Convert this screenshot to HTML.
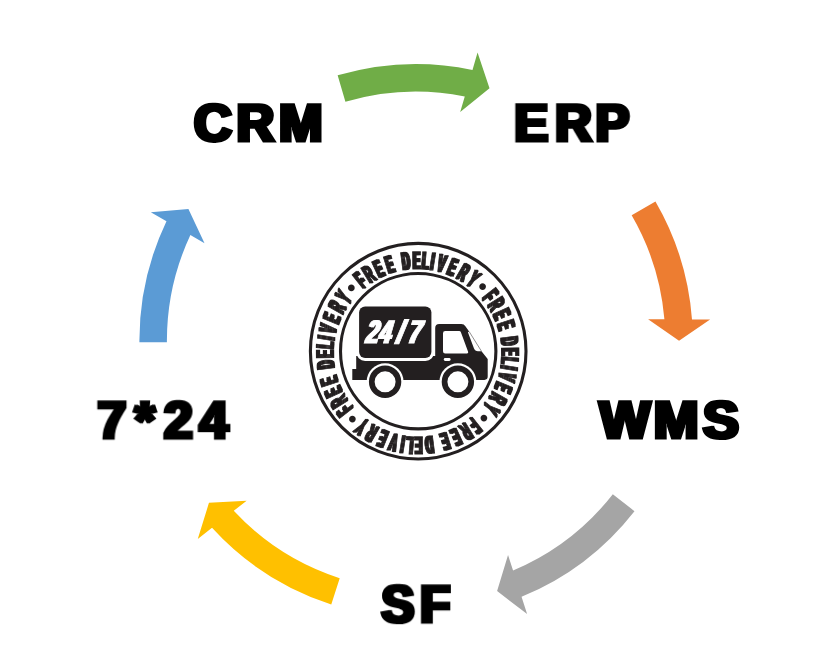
<!DOCTYPE html>
<html lang="en">
<head>
<meta charset="utf-8">
<title>CRM ERP WMS SF 7*24 cycle</title>
<style>
html,body{margin:0;padding:0;background:#fff;}
body{width:826px;height:656px;overflow:hidden;}
svg{display:block;will-change:transform;}
text{font-family:"Liberation Sans",sans-serif;font-weight:bold;font-kerning:none;text-rendering:geometricPrecision;}
.lbl text{fill:#000;stroke:#000;stroke-linejoin:miter;}
.ring text{fill:#231f20;stroke:#231f20;stroke-linejoin:miter;}
.ring text.dot{stroke:none;}
.t247{font-style:italic;fill:#fff;stroke:#fff;stroke-linejoin:miter;}
</style>
</head>
<body>
<svg width="826" height="656" viewBox="0 0 826 656">
<defs><filter id="fatv" x="-10%" y="-10%" width="120%" height="120%" color-interpolation-filters="sRGB"><feMorphology operator="dilate" radius="0 1"/></filter><filter id="fat" x="-10%" y="-10%" width="120%" height="120%" color-interpolation-filters="sRGB"><feMorphology operator="dilate" radius="1 0"/></filter><filter id="idf" x="-10%" y="-10%" width="120%" height="120%" color-interpolation-filters="sRGB"><feOffset dx="0" dy="0"/></filter>
<path id="seg0" d="M363.06 288.69 A84.25 84.25 0 0 1 477.68 293.83"/>
<path id="seg1" d="M481.81 298.36 A84.25 84.25 0 0 1 476.67 412.98"/>
<path id="seg2" d="M472.14 417.11 A84.25 84.25 0 0 1 357.52 411.97"/>
<path id="seg3" d="M353.39 407.44 A84.25 84.25 0 0 1 358.53 292.82"/>
</defs>
<rect width="826" height="656" fill="#fff"/>
<g class="arrows">
<path fill="#70AD47" transform="translate(-0.15 0.55)" d="M337.79 74.77 A277.00 277.00 0 0 1 472.64 69.35 L477.70 51.99 L489.66 87.77 L460.35 111.51 L464.92 95.84 A249.50 249.50 0 0 0 345.56 101.15 Z"/>
<path fill="#ED7D31" transform="translate(-0.20 -0.10)" d="M655.65 201.58 A277.00 277.00 0 0 1 692.20 319.48 L710.29 319.51 L679.25 340.96 L648.29 319.41 L664.61 319.43 A249.50 249.50 0 0 0 631.86 215.37 Z"/>
<path fill="#A5A5A5" transform="translate(0.20 0.10)" d="M634.28 511.04 A277.00 277.00 0 0 1 521.34 596.69 L526.90 613.90 L496.91 591.01 L507.84 554.90 L512.86 570.43 A249.50 249.50 0 0 0 612.61 494.11 Z"/>
<path fill="#FFC000" transform="translate(0.40 0.30)" d="M330.86 604.09 A277.00 277.00 0 0 1 211.62 527.47 L197.36 538.60 L208.56 502.57 L246.22 500.43 L233.36 510.48 A249.50 249.50 0 0 0 339.31 577.92 Z"/>
<path fill="#5B9BD5" transform="translate(0.40 0.20)" d="M139.00 342.14 A277.00 277.00 0 0 1 166.08 221.04 L150.42 211.99 L188.02 208.87 L204.12 242.99 L189.98 234.83 A249.50 249.50 0 0 0 166.50 341.98 Z"/>
</g>
<g class="lbl" filter="url(#fat)">
<text transform="translate(0 141.05) scale(0.9943 1)" x="195.02 237.96 280.63" y="0" font-size="52.62" stroke-width="2.90">CRM</text>
<text transform="translate(0 140.95) scale(0.9658 1)" x="532.55 574.83 616.46" y="0" font-size="52.62" stroke-width="2.90">ERP</text>
<text transform="translate(0 438.15) scale(1.0210 1)" x="587.22 640.25 688.52" y="0" font-size="52.62" stroke-width="2.90">WMS</text>
<text transform="translate(0 622.15) scale(0.9433 1)" x="404.17 445.14" y="0" font-size="52.62" stroke-width="2.90">SF</text>
<text transform="translate(0 438.15) scale(0.9869 1)" x="98.68 136.44 165.92 202.06" y="0" font-size="52.62" stroke-width="2.90">7*24</text>
</g>
<g class="logo" filter="url(#idf)">
<circle cx="418.20" cy="351.20" r="107.80" fill="none" stroke="#231f20" stroke-width="3.10"/>
<circle cx="418.20" cy="351.20" r="77.70" fill="none" stroke="#231f20" stroke-width="3.10"/>
<g class="ring">
<g filter="url(#fat)"><text font-size="24.42" stroke-width="1.50" dx="0.00 4.53 6.16 7.22 0.00 9.24 4.99 2.42 3.22 7.70 6.45 8.14 7.01"><textPath href="#seg0" textLength="117.38" lengthAdjust="spacingAndGlyphs">FREE DELIVERY</textPath></text></g>
<g filter="url(#fatv)"><text font-size="24.42" stroke-width="1.50" dx="0.00 4.53 6.16 7.22 0.00 9.24 4.99 2.42 3.22 7.70 6.45 8.14 7.01"><textPath href="#seg1" textLength="117.38" lengthAdjust="spacingAndGlyphs">FREE DELIVERY</textPath></text></g>
<g filter="url(#fat)"><text font-size="24.42" stroke-width="1.50" dx="0.00 4.53 6.16 7.22 0.00 9.24 4.99 2.42 3.22 7.70 6.45 8.14 7.01"><textPath href="#seg2" textLength="117.38" lengthAdjust="spacingAndGlyphs">FREE DELIVERY</textPath></text></g>
<g filter="url(#fatv)"><text font-size="24.42" stroke-width="1.50" dx="0.00 4.53 6.16 7.22 0.00 9.24 4.99 2.42 3.22 7.70 6.45 8.14 7.01"><textPath href="#seg3" textLength="117.38" lengthAdjust="spacingAndGlyphs">FREE DELIVERY</textPath></text></g>
</g>
<g class="ring dots">
<text class="dot" transform="translate(482.71 286.64) rotate(44.50)" font-size="23.50" text-anchor="middle" y="7.75">•</text>
<text class="dot" transform="translate(483.86 418.01) rotate(134.50)" font-size="23.50" text-anchor="middle" y="7.75">•</text>
<text class="dot" transform="translate(352.49 419.16) rotate(224.50)" font-size="23.50" text-anchor="middle" y="7.75">•</text>
<text class="dot" transform="translate(351.34 287.79) rotate(314.50)" font-size="23.50" text-anchor="middle" y="7.75">•</text>
</g>
<g class="truck">
<path fill="#231f20" d="M356.2 356 L435.2 356 L435.2 328 Q435.2 324 439.2 324 L461.3 324 Q464 324 465.6 326.4 L469.1 331.5 L467.9 332.3 L473.9 348.3 Q475 351.3 478 351.3 L481.5 351.3 L487.7 359 L487.7 376.6 Q487.7 379.9 484.4 379.9 L352.3 379.9 L352.3 369.1 L356.2 369.1 Z"/>
<path fill="none" stroke="#231f20" stroke-width="0.5" d="M469.1 331.5 L481.5 351.3"/>
<path fill="#fff" d="M445.2 331 L459.2 331 Q460.4 331 460.8 332.1 L468.1 351.7 Q468.7 353.4 466.9 353.4 L445.2 353.4 Q443 353.4 443 351.2 L443 333.2 Q443 331 445.2 331 Z"/>
<rect x="443.8" y="358.1" width="6.8" height="2.8" rx="1.4" fill="#fff"/>
<rect x="359.1" y="306.6" width="72.3" height="51.4" rx="6" fill="#231f20" stroke="#fff" stroke-width="6" paint-order="stroke"/>
<circle cx="385.1" cy="381.8" r="18.5" fill="#fff"/>
<circle cx="457.9" cy="381.8" r="18.5" fill="#fff"/>
<circle cx="385.1" cy="381.8" r="13.35" fill="#fff" stroke="#231f20" stroke-width="5.7"/>
<circle cx="457.9" cy="381.8" r="13.35" fill="#fff" stroke="#231f20" stroke-width="5.7"/>
<g filter="url(#fat)"><text class="t247" transform="translate(0.00 343.20) scale(0.6800 1) skewX(-13.00)" font-size="32.40" stroke-width="1.00" x="537.47 556.69 582.74 599.94" y="0">24/7</text></g>
</g>
</g>
</svg>
</body>
</html>
